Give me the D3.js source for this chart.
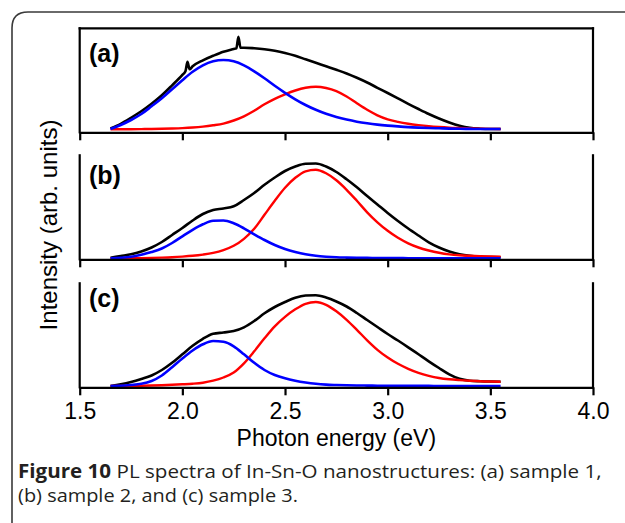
<!DOCTYPE html>
<html>
<head>
<meta charset="utf-8">
<script src="https://cdn.jsdelivr.net/npm/d3@7.9.0/dist/d3.min.js"></script>
<style>
  html, body { margin: 0; padding: 0; background: #fff; }
  svg { display: block; }
  .axis text { font-family: "Liberation Sans", Arial, sans-serif; }
</style>
</head>
<body>
<svg id="chart" width="625" height="523"></svg>
<script>
// Photon energy grid (eV) shared by the fitted curves
const energy = [1.65, 1.70, 1.75, 1.80, 1.85, 1.90, 1.95, 2.00, 2.05, 2.10,
  2.15, 2.20, 2.25, 2.30, 2.35, 2.40, 2.45, 2.50, 2.55, 2.60,
  2.65, 2.70, 2.75, 2.80, 2.85, 2.90, 2.95, 3.00, 3.05, 3.10,
  3.15, 3.20, 3.25, 3.30, 3.35, 3.40, 3.45, 3.50, 3.55];

// (a) sample 1 - measured spectrum has its own grid (two narrow spikes)
const aMeasuredE = [1.65, 1.70, 1.75, 1.80, 1.85, 1.90, 1.95, 2.00, 2.015, 2.025, 2.035, 2.05, 2.10,
  2.15, 2.20, 2.25, 2.263, 2.273, 2.283, 2.30, 2.35, 2.40, 2.45, 2.50, 2.55, 2.60,
  2.65, 2.70, 2.75, 2.80, 2.85, 2.90, 2.95, 3.00, 3.05, 3.10,
  3.15, 3.20, 3.25, 3.30, 3.35, 3.40, 3.45, 3.50, 3.55];
const aMeasured = [3.8, 8.5, 14.5, 21.0, 28.5, 37.0, 47.0, 57.5, 61.0, 70.5, 63.0, 66.0, 72.0,
  76.5, 80.5, 83.3, 84.0, 95.5, 84.6, 84.6, 84.0, 83.0, 81.5, 79.3, 76.5, 73.0,
  69.5, 66.0, 62.5, 58.8, 54.5, 49.8, 44.5, 39.3, 34.0, 28.5,
  23.3, 18.3, 13.8, 9.8, 6.5, 4.4, 3.6, 3.3, 3.3];
const aLow = [3.3, 7.3, 12.3, 18.3, 26.0, 34.0, 43.0, 52.0, 60.5, 67.0,
  71.0, 72.3, 71.0, 67.0, 61.0, 54.0, 46.5, 39.5, 33.0, 27.3,
  22.5, 18.5, 15.3, 12.7, 10.6, 9.0, 7.7, 6.7, 5.9, 5.2,
  4.7, 4.3, 4.0, 3.7, 3.5, 3.4, 3.3, 3.3, 3.3];
const aHigh = [3.0, 3.0, 3.1, 3.2, 3.3, 3.5, 3.8, 4.2, 4.8, 5.7,
  7.0, 8.7, 11.8, 16.0, 21.5, 28.0, 33.5, 38.0, 41.8, 44.5,
  45.5, 44.3, 41.2, 35.8, 29.0, 22.5, 17.0, 13.0, 10.5, 8.6,
  7.2, 6.1, 5.3, 4.7, 4.3, 3.9, 3.6, 3.4, 3.3];

// (b) sample 2
const bMeasured = [1.6, 3.3, 5.0, 7.8, 11.8, 17.3, 24.3, 31.3, 38.8, 45.3,
  49.3, 50.8, 53.0, 59.3, 66.3, 74.5, 81.8, 88.3, 92.8, 95.6,
  95.8, 92.8, 87.3, 80.0, 72.0, 63.3, 54.8, 46.3, 38.3, 30.8,
  23.8, 17.0, 11.8, 7.8, 5.0, 3.4, 2.6, 2.2, 2.0];
const bLow = [1.0, 1.5, 2.5, 4.6, 7.3, 10.8, 16.3, 23.0, 29.5, 35.0,
  38.5, 38.8, 36.0, 31.0, 25.0, 19.3, 14.3, 10.3, 7.3, 5.0,
  3.5, 2.6, 2.0, 1.7, 1.5, 1.4, 1.3, 1.2, 1.2, 1.1,
  1.1, 1.1, 1.0, 1.0, 1.0, 1.0, 1.0, 1.0, 1.0];
const bHigh = [1.0, 1.0, 1.1, 1.2, 1.4, 1.7, 2.1, 2.7, 3.5, 4.7,
  6.4, 9.2, 13.5, 20.5, 30.5, 44.5, 58.5, 71.5, 81.5, 88.0,
  89.5, 86.0, 79.0, 69.5, 58.5, 47.0, 37.0, 28.5, 21.5, 16.0,
  11.8, 8.8, 6.5, 4.9, 4.0, 3.5, 3.1, 2.8, 2.6];

// (c) sample 3
const cMeasured = [1.3, 3.0, 5.3, 8.3, 11.8, 17.3, 24.5, 33.0, 41.5, 48.5,
  53.5, 54.8, 56.3, 60.0, 66.3, 74.0, 80.3, 85.3, 89.6, 91.8,
  92.1, 89.8, 85.8, 80.8, 74.3, 67.3, 60.3, 53.3, 46.8, 40.0,
  33.0, 26.0, 19.3, 13.0, 8.5, 6.6, 6.1, 5.8, 5.6];
const cLow = [1.3, 1.5, 2.3, 3.5, 6.3, 11.8, 20.0, 28.8, 36.8, 43.0,
  46.3, 45.5, 41.0, 33.0, 24.5, 17.3, 12.3, 9.0, 6.6, 4.8,
  3.5, 2.7, 2.3, 2.0, 1.8, 1.7, 1.6, 1.5, 1.5, 1.4,
  1.4, 1.4, 1.3, 1.3, 1.3, 1.3, 1.3, 1.3, 1.3];
const cHigh = [1.3, 1.4, 1.5, 1.6, 1.8, 2.1, 2.5, 3.0, 3.6, 4.6,
  6.6, 9.8, 14.8, 24.0, 36.0, 49.0, 61.0, 70.5, 78.0, 83.5,
  85.3, 82.5, 76.0, 67.5, 57.5, 47.0, 37.5, 29.8, 23.5, 18.5,
  14.5, 11.5, 9.3, 8.0, 7.2, 6.6, 6.1, 5.8, 5.6];

const xTicks = [1.5, 2.0, 2.5, 3.0, 3.5, 4.0];
const panelLabels = ["(a)", "(b)", "(c)"];

const panels = [
  { label: panelLabels[0], measuredE: aMeasuredE, measured: aMeasured, low: aLow, high: aHigh },
  { label: panelLabels[1], measuredE: energy, measured: bMeasured, low: bLow, high: bHigh },
  { label: panelLabels[2], measuredE: energy, measured: cMeasured, low: cLow, high: cHigh }
];

// layout
const axisY = [132.3, 259.3, 387.3];
const labelY = [62, 184, 307];
const panelH = 104;

const svg = d3.select("#chart");

// outer figure frame (open to the right and bottom)
svg.append("path")
  .attr("d", "M12,530 V28 Q12,12 28,12 H640")
  .attr("fill", "none")
  .attr("stroke", "#3a3a3a")
  .attr("stroke-width", 1.6);

const x = d3.scaleLinear().domain([1.5, 4.0]).range([79.7, 593]);

panels.forEach((p, i) => {
  const y = d3.scaleLinear().domain([0, panelH]).range([axisY[i], axisY[i] - panelH]);
  const g = svg.append("g");

  const line = d3.line()
    .x((d) => x(d[0]))
    .y((d) => y(d[1]))
    .curve(d3.curveMonotoneX);

  const series = [
    { pts: d3.zip(p.measuredE, p.measured), color: "#000", w: 2.6 },
    { pts: d3.zip(energy, p.high), color: "#ff0000", w: 2.4 },
    { pts: d3.zip(energy, p.low), color: "#0000ff", w: 2.6 }
  ];

  series.forEach((s) => {
    g.append("path")
      .attr("d", line(s.pts))
      .attr("fill", "none")
      .attr("stroke", s.color)
      .attr("stroke-width", s.w)
      .attr("stroke-linejoin", "round");
  });

  // bottom axis with ticks; labels only on last panel
  const axis = d3.axisBottom(x)
    .tickValues(xTicks)
    .tickSize(8)
    .tickSizeOuter(0)
    .tickPadding(7)
    .tickFormat(i === 2 ? d3.format(".1f") : () => "");

  const ax = g.append("g")
    .attr("class", "axis")
    .attr("transform", `translate(0,${axisY[i]})`)
    .call(axis);
  ax.select(".domain").attr("stroke-width", 2.2).attr("stroke", "#000");
  ax.selectAll(".tick line").attr("stroke-width", 2.2).attr("stroke", "#000");
  ax.selectAll(".tick text")
    .attr("font-size", 23)
    .attr("fill", "#000");

  // side lines (and top in panel a)
  const top = axisY[i] - panelH;
  const frame = [
    [[x(1.5), axisY[i]], [x(1.5), top]],
    [[x(4.0), axisY[i]], [x(4.0), top]]
  ];
  if (i === 0) frame.push([[x(1.5), top], [x(4.0), top]]);
  frame.forEach((seg) => {
    g.append("path")
      .attr("d", d3.line()(seg))
      .attr("stroke", "#000")
      .attr("stroke-width", 2.2)
      .attr("stroke-linecap", "square");
  });

  g.append("text")
    .attr("x", 89)
    .attr("y", labelY[i])
    .attr("font-family", "Liberation Sans, Arial, sans-serif")
    .attr("font-weight", "bold")
    .attr("font-size", 25)
    .text(p.label);
});

// axis titles
svg.append("text")
  .attr("x", (x(1.5) + x(4.0)) / 2)
  .attr("y", 446)
  .attr("text-anchor", "middle")
  .attr("font-family", "Liberation Sans, Arial, sans-serif")
  .attr("font-size", 23)
  .text("Photon energy (eV)");

svg.append("text")
  .attr("transform", "translate(57,225) rotate(-90)")
  .attr("text-anchor", "middle")
  .attr("font-family", "Liberation Sans, Arial, sans-serif")
  .attr("font-size", 24)
  .text("Intensity (arb. units)");

// caption: bold lead + regular text, squeezed horizontally to the printed width
const captionLines = [
  ["Figure 10", " PL spectra of In-Sn-O nanostructures: (a) sample 1,"],
  ["", "(b) sample 2, and (c) sample 3."]
];
const captionY = [478, 502];
const captionW = [584, 280];
const capFont = 19;

captionLines.forEach(([lead, rest], i) => {
  const g = svg.append("g");
  const fontAttrs = (t) => t
    .attr("font-family", "Open Sans, sans-serif")
    .attr("font-size", capFont)
    .attr("fill", "#231f20")
    .attr("y", 0);
  let w1 = 0;
  if (lead) {
    const t1 = fontAttrs(g.append("text")).attr("x", 0).attr("font-weight", "bold").text(lead);
    w1 = t1.node().getComputedTextLength();
  }
  const t2 = fontAttrs(g.append("text")).attr("x", w1).attr("xml:space", "preserve")
    .style("white-space", "pre").text(rest);
  const total = w1 + t2.node().getComputedTextLength();
  const sx = captionW[i] / total;
  g.attr("transform", `translate(18,${captionY[i]}) scale(${sx},1)`);
});
</script>
</body>
</html>
